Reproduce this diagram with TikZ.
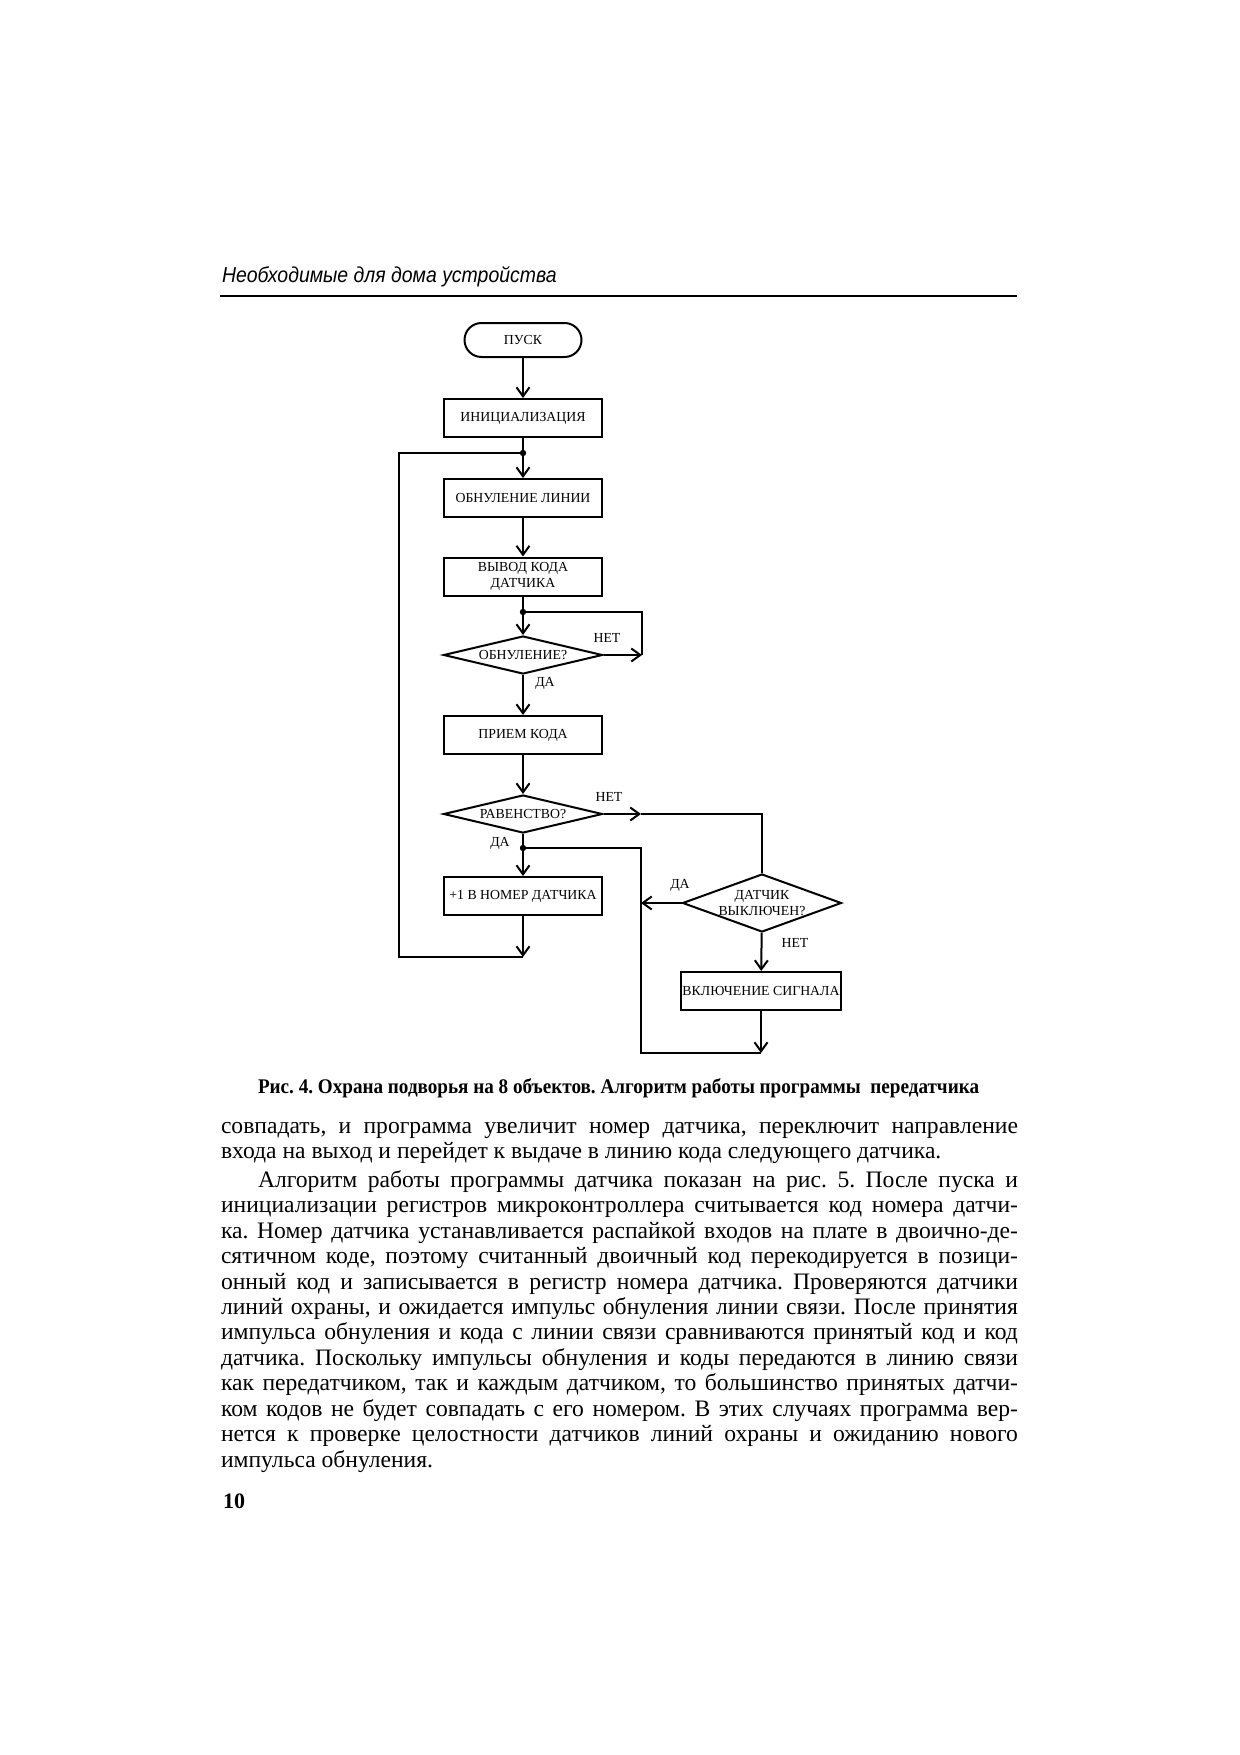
\documentclass[tikz,border=0pt]{standalone}
\usepackage{fontspec}
\setmainfont{Liberation Serif}
\newfontfamily\hdrfont[FakeStretch=0.9]{Liberation Sans}
\newfontfamily\bodyfont{Liberation Serif}
\newfontfamily\capfont[FakeStretch=0.92]{Liberation Serif}
\usetikzlibrary{shapes.geometric,arrows.meta}
\hbadness=10000
\frenchspacing
\newcommand\fullline[1]{\hbox to 398.5pt{#1}}

\tikzset{
  blk/.style={draw, minimum width=79pt, minimum height=19pt, inner sep=0.5pt,
    align=center, font=\fontsize{6.9}{7.8}\selectfont},
  term/.style={blk, rounded corners=8.5pt, minimum width=58.5pt, minimum height=17pt},
  cond/.style={draw, diamond, shape aspect=4.2, inner sep=0pt, minimum width=79.5pt,
    minimum height=19pt, align=center, font=\fontsize{6.9}{8}\selectfont},
  lbl/.style={inner sep=0pt, font=\fontsize{6.9}{8}\selectfont},
  txt/.style={anchor=base west, inner sep=0pt, font=\bodyfont\fontsize{11.8}{12.7}\selectfont}
}

\begin{document}
\begin{tikzpicture}[x=0.5pt, y=-0.5pt, line width=1pt, >={Straight Barb[length=4.5pt,width=6.5pt]}]
  \fill[white] (0,0) rectangle (1240,1755);
  \useasboundingbox (0,0) rectangle (1240,1755);

  \node[anchor=base west, inner sep=0pt, font=\hdrfont\itshape\fontsize{10.8}{12}\selectfont]
    (hdr) at (221,283) {Необходимые для дома устройства};
  \coordinate (rl) at (220,296); \coordinate (rr) at (1017,296);
  \draw (rl) -- (rr);

  \node[term] (pusk)  at (523,340)   {ПУСК};
  \node[blk]  (init)  at (523,418)   {ИНИЦИАЛИЗАЦИЯ};
  \node[blk]  (obnl)  at (523,498)   {ОБНУЛЕНИЕ ЛИНИИ};
  \node[blk]  (vyvod) at (523,576.5) {ВЫВОД КОДА\\ДАТЧИКА};
  \node[cond] (qobn)  at (523,655)   {ОБНУЛЕНИЕ?};
  \node[blk]  (priem) at (523,735)   {ПРИЕМ КОДА};
  \node[cond] (qrav)  at (523,814)   {РАВЕНСТВО?};
  \node[blk]  (plus)  at (523,896)   {+1 В НОМЕР ДАТЧИКА};
  \node[cond, shape aspect=2.7, minimum height=29pt] (qdat) at (762,903) {ДАТЧИК\\ВЫКЛЮЧЕН?};
  \node[blk]  (sig)   at (761,991)   {ВКЛЮЧЕНИЕ СИГНАЛА};

  \coordinate (d1) at (523,453);  \coordinate (d2) at (523,612);
  \coordinate (d3) at (523,848);  \coordinate (rn) at (642,655);
  \coordinate (ra) at (641,814);  \coordinate (bl) at (523,957);
  \coordinate (lc) at (399,453);  \coordinate (rb) at (641,1053);
  \coordinate (br) at (761,1053);

  \draw[->] (pusk) -- (init);
  \draw (init) -- (d1); \draw[->] (d1) -- (obnl);
  \draw[->] (obnl) -- (vyvod);
  \draw (vyvod) -- (d2); \draw[->] (d2) -- (qobn);
  \draw[->] (qobn.east) -- (rn); \draw (rn) |- (d2);
  \draw[->] (qobn) -- (priem);
  \draw[->] (priem) -- (qrav);
  \draw (qrav) -- (d3); \draw[->] (d3) -- (plus);
  \draw[->] (plus) -- (bl); \draw (bl) -| (lc) -- (d1);
  \draw[->] (qrav.east) -- (ra); \draw (ra) -| (qdat.north);
  \draw[->] (qdat.west) -- (qdat.west -| rb);
  \draw[->] (qdat) -- (sig);
  \draw (d3) -| (rb) -- (br); \draw[->] (sig) -- (br);
  \foreach \p in {d1,d2,d3}
    \fill (\p) circle (1.6pt);

  \node[lbl] (n1) at (607,638) {НЕТ};
  \node[lbl] (y1) at (545,683) {ДА};
  \node[lbl] (n2) at (609,797) {НЕТ};
  \node[lbl] (y2) at (500,843) {ДА};
  \node[lbl] (y3) at (680,885) {ДА};
  \node[lbl] (n3) at (795,943) {НЕТ};

  \node[anchor=base west, inner sep=0pt, font=\capfont\bfseries\fontsize{10.4}{12}\selectfont]
    (cap) at (257,1093) {Рис. 4. Охрана подворья на 8 объектов. Алгоритм работы программы\ \ передатчика};

  \node[txt] (l1)  at (220,1133)   {\fullline{совпадать, и программа увеличит номер датчика, переключит направление}};
  \node[txt] (l2)  at (220,1158.5) {входа на выход и перейдет к выдаче в линию кода следующего датчика.};
  \node[txt] (l3)  at (257,1187)   {\hbox to 380pt{Алгоритм работы программы датчика показан на рис. 5. После пуска и}};
  \node[txt] (l4)  at (220,1212.5) {\fullline{инициализации регистров микроконтроллера считывается код номера датчи-}};
  \node[txt] (l5)  at (220,1238)   {\fullline{ка. Номер датчика устанавливается распайкой входов на плате в двоично-де-}};
  \node[txt] (l6)  at (220,1263.5) {\fullline{сятичном коде, поэтому считанный двоичный код перекодируется в позици-}};
  \node[txt] (l7)  at (220,1289)   {\fullline{онный код и записывается в регистр номера датчика. Проверяются датчики}};
  \node[txt] (l8)  at (220,1314)   {\fullline{линий охраны, и ожидается импульс обнуления линии связи. После принятия}};
  \node[txt] (l9)  at (220,1339.5) {\fullline{импульса обнуления и кода с линии связи сравниваются принятый код и код}};
  \node[txt] (l10) at (220,1365)   {\fullline{датчика. Поскольку импульсы обнуления и коды передаются в линию связи}};
  \node[txt] (l11) at (220,1390.5) {\fullline{как передатчиком, так и каждым датчиком, то большинство принятых датчи-}};
  \node[txt] (l12) at (220,1416)   {\fullline{ком кодов не будет совпадать с его номером. В этих случаях программа вер-}};
  \node[txt] (l13) at (220,1441.5) {\fullline{нется к проверке целостности датчиков линий охраны и ожиданию нового}};
  \node[txt] (l14) at (220,1467)   {импульса обнуления.};

  \node[anchor=base west, inner sep=0pt, font=\bfseries\fontsize{11}{13}\selectfont]
    (pg) at (222,1508) {10};
\end{tikzpicture}
\end{document}
